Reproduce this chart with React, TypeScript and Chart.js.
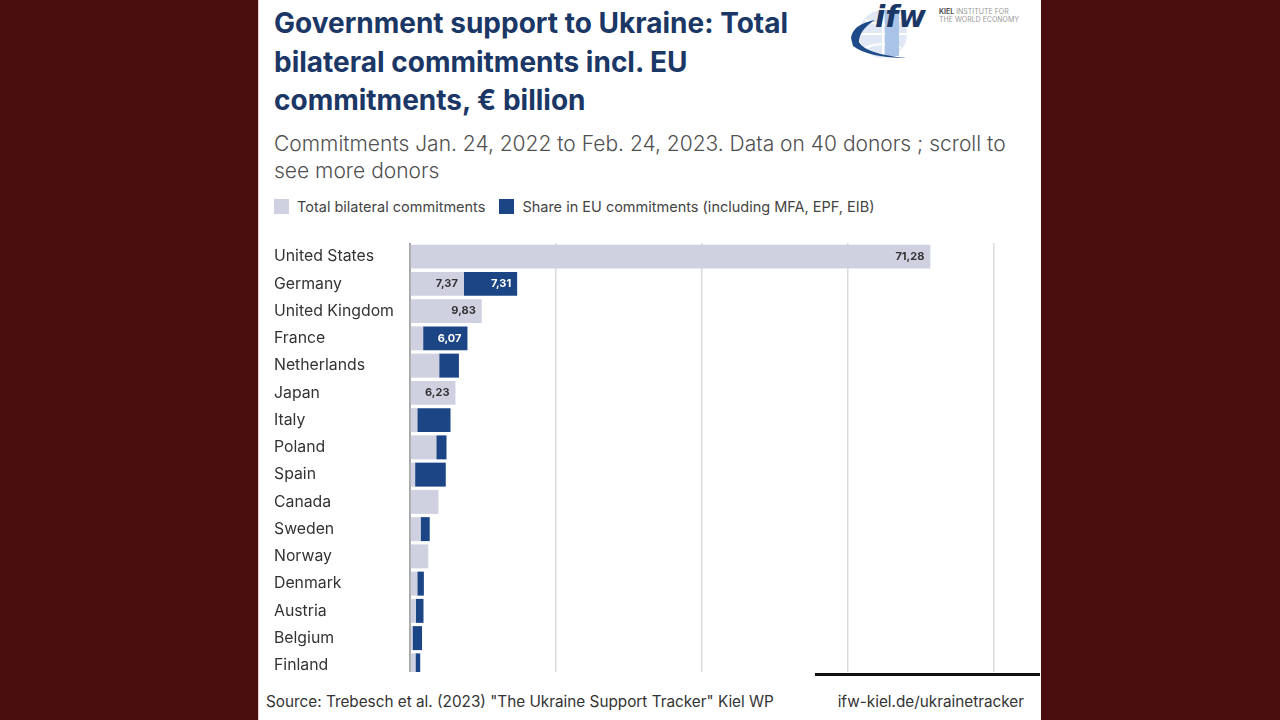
import React, { useEffect, useRef } from "react";
import { Chart, registerables } from "chart.js";

Chart.register(...registerables);

const categories = [
  "United States", "Germany", "United Kingdom", "France", "Netherlands", "Japan",
  "Italy", "Poland", "Spain", "Canada", "Sweden", "Norway", "Denmark", "Austria",
  "Belgium", "Finland",
];
const bilateral = [71.28, 7.37, 9.83, 1.8, 4.0, 6.23, 1.0, 3.6, 0.7, 3.9, 1.45, 2.5, 1.0, 0.8, 0.35, 0.75];
const euShare = [0, 7.31, 0, 6.07, 2.7, 0, 4.55, 1.4, 4.2, 0, 1.25, 0, 0.9, 1.05, 1.3, 0.65];
const xTicks = [0, 20, 40, 60, 80];

const GREY = "#cfd1e1";
const BLUE = "#1c4585";
const NAVY = "#1b3766";

const valueLabels = {
  id: "valueLabels",
  afterDatasetsDraw(chart: any) {
    const ctx = chart.ctx;
    ctx.save();
    ctx.font = "bold 11px Inter";
    ctx.textAlign = "right";
    ctx.textBaseline = "middle";
    chart.data.datasets.forEach((ds: any, di: number) => {
      const meta = chart.getDatasetMeta(di);
      meta.data.forEach((bar: any, i: number) => {
        const v = ds.data[i];
        if (v >= 6) {
          ctx.fillStyle = di === 0 ? "#333" : "#ffffff";
          ctx.fillText(v.toFixed(2).replace(".", ","), bar.x - 6, bar.y);
        }
      });
    });
    ctx.restore();
  },
};

function BarChart() {
  const ref = useRef<HTMLCanvasElement>(null);
  useEffect(() => {
    const chart = new Chart(ref.current!, {
      type: "bar",
      data: {
        labels: categories,
        datasets: [
          { label: "Total bilateral commitments", data: bilateral, backgroundColor: GREY, barPercentage: 0.88, categoryPercentage: 1 },
          { label: "Share in EU commitments (including MFA, EPF, EIB)", data: euShare, backgroundColor: BLUE, barPercentage: 0.88, categoryPercentage: 1 },
        ],
      },
      options: {
        indexAxis: "y",
        animation: false,
        responsive: false,
        maintainAspectRatio: false,
        layout: { padding: { left: 0, right: 2, top: 0, bottom: 0 } },
        plugins: { legend: { display: false }, tooltip: { enabled: false } },
        scales: {
          x: {
            stacked: true,
            min: xTicks[0],
            max: xTicks[xTicks.length - 1],
            afterBuildTicks: (scale: any) => { scale.ticks = xTicks.map((v) => ({ value: v })); },
            afterFit: (scale: any) => { scale.height = 0; scale.paddingLeft = 0; scale.paddingRight = 0; },
            ticks: { display: false },
            grid: { color: "#dcdcdc", lineWidth: 1.5, drawTicks: false },
            border: { display: false },
          },
          y: {
            stacked: true,
            afterFit: (scale: any) => { scale.width = 136; scale.paddingTop = 0; scale.paddingBottom = 0; },
            ticks: { crossAlign: "far", color: "#333", font: { family: "Inter", size: 15.8 }, padding: 0 },
            grid: { display: false, drawTicks: false },
            border: { color: "#a9a9a9", width: 2 },
          },
        },
      },
      plugins: [valueLabels],
    });
    return () => chart.destroy();
  }, []);
  return <canvas ref={ref} width={722} height={436} />;
}

function Logo() {
  return (
    <svg width={190} height={64} style={{ position: "absolute", left: 845, top: 0 }}>
      <circle cx={38} cy={34} r={24} fill="#dfe8f4" />
      <path d="M38 10 L38 58 M14 34 L62 34 M20 20 Q38 28 56 20 M20 48 Q38 40 56 48" stroke="#ffffff" strokeWidth={2} fill="none" />
      <rect x={40} y={10} width={14} height={46} fill="#a9c4e6" />
      <path d="M6 38 Q8 24 30 20 Q14 30 14 42 Q20 54 62 58 Q24 58 8 46 Z" fill="#1e4a8a" />
      <text x={30} y={27} fontFamily="DejaVu Sans" fontStyle="italic" fontWeight="bold" fontSize={30} fill={NAVY}>ifw</text>
      <text x={94} y={14} fontFamily="Inter" fontSize={7} fill="#999"><tspan fill="#555" fontWeight="bold">KIEL</tspan> INSTITUTE FOR</text>
      <text x={94} y={22} fontFamily="Inter" fontSize={7} fill="#999">THE WORLD ECONOMY</text>
    </svg>
  );
}

export default function App() {
  useEffect(() => {
    document.body.style.margin = "0";
  }, []);
  return (
    <div style={{ position: "fixed", inset: 0, background: "#4b0e0e", overflow: "hidden" }}>
      <div style={{ position: "absolute", left: 258, top: 0, width: 782, height: 720, background: "#ffffff", borderLeft: "1px solid #e9cfcf" }} />
      <Logo />
      <div style={{ position: "absolute", left: 274, top: 4, width: 580, fontFamily: "Inter", fontWeight: 700, fontSize: 28, lineHeight: "38.5px", color: NAVY, whiteSpace: "nowrap" }}>
        Government support to Ukraine: Total<br />bilateral commitments incl. EU<br />commitments, € billion
      </div>
      <div style={{ position: "absolute", left: 274, top: 130, width: 760, fontFamily: "Inter", fontWeight: 300, fontSize: 21, lineHeight: "27px", color: "#505050", whiteSpace: "nowrap" }}>
        Commitments Jan. 24, 2022 to Feb. 24, 2023. Data on 40 donors ; scroll to<br />see more donors
      </div>
      <div style={{ position: "absolute", left: 274, top: 198, display: "flex", alignItems: "center", fontFamily: "Inter", fontSize: 14.5, color: "#444" }}>
        <span style={{ width: 15, height: 15, background: GREY, display: "inline-block", marginRight: 8 }} />
        <span style={{ marginRight: 14 }}>Total bilateral commitments</span>
        <span style={{ width: 15, height: 15, background: BLUE, display: "inline-block", marginRight: 8 }} />
        <span>Share in EU commitments (including MFA, EPF, EIB)</span>
      </div>
      <div style={{ position: "absolute", left: 274, top: 243, width: 722, height: 429, overflow: "hidden" }}>
        <BarChart />
      </div>
      <div style={{ position: "absolute", left: 815, top: 673, width: 225, height: 3, background: "#111" }} />
      <div style={{ position: "absolute", left: 266, top: 692, fontFamily: "Inter", fontSize: 15.3, color: "#333" }}>
        Source: Trebesch et al. (2023) "The Ukraine Support Tracker" Kiel WP
      </div>
      <div style={{ position: "absolute", right: 1280 - 1024, top: 692, fontFamily: "Inter", fontSize: 15.3, color: "#333" }}>
        ifw-kiel.de/ukrainetracker
      </div>
    </div>
  );
}
